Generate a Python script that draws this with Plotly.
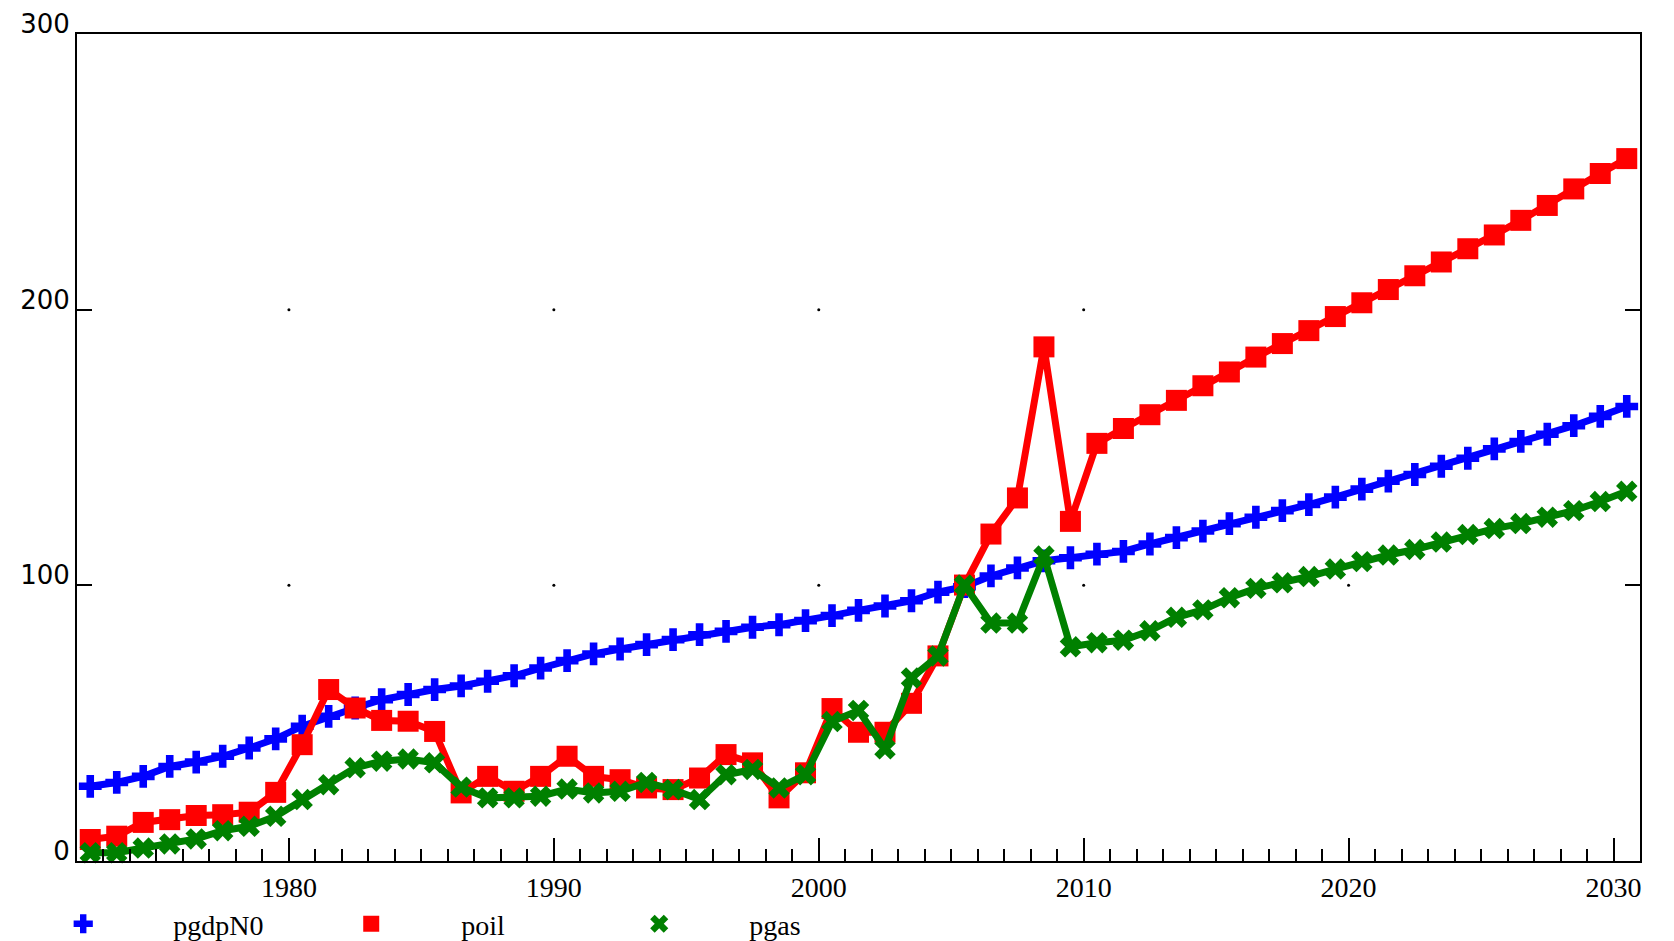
import plotly.graph_objects as go

years = list(range(1972, 2031))
pgdpN0 = [27.1, 28.5, 30.7, 34.3, 35.9, 38.0, 41.0, 44.3, 48.9, 52.5, 55.5, 58.5, 60.4, 62.2, 63.5,
          65.2, 67.2, 70.0, 72.7, 75.1, 76.9, 78.5, 80.3, 82.1, 83.3, 84.8, 85.7, 87.2, 89.0,
          90.9, 92.5, 94.4, 97.5, 99.5, 103.4, 106.3, 108.9, 110.0, 111.3,
          112.3, 115.0, 117.3, 119.7, 122.4, 124.7, 127.1, 129.3, 132.0, 134.9, 137.8, 140.2, 143.2,
          146.1, 149.5, 152.2, 154.8, 157.9, 161.3, 164.9]
poil = [7.8, 9.0, 14.0, 15.0, 16.5, 16.8, 17.7, 24.9, 42.2, 62.2, 55.5, 51.0, 50.7, 47.0, 24.7,
        30.7, 25.3, 30.7, 38.0, 30.7, 29.5, 26.5, 25.9, 30.1, 38.6, 35.6, 22.9, 32.0, 55.3,
        46.7, 46.7, 57.2, 74.4, 100.1, 118.6, 131.7, 186.5, 123.2, 151.5,
        156.9, 161.9, 167.1, 172.4, 177.4, 182.8, 187.7, 192.4, 197.5, 202.5, 207.3, 212.3, 217.3,
        222.1, 227.1, 232.4, 237.8, 243.8, 249.4, 254.8]
pgas = [3.0, 3.0, 4.7, 6.2, 8.0, 11.0, 12.6, 16.2, 22.3, 27.7, 33.8, 36.2, 37.0, 35.6, 26.8,
        22.9, 22.9, 23.5, 26.1, 24.7, 25.3, 28.5, 25.9, 22.3, 31.3, 33.2, 26.5, 31.3, 50.6,
        54.6, 40.7, 66.4, 74.4, 100.1, 86.3, 86.3, 110.6, 77.7, 79.2,
        80.1, 83.5, 88.4, 91.1, 95.5, 98.9, 100.9, 103.2, 105.9, 108.6, 111.0, 113.0, 115.7,
        118.4, 120.6, 122.4, 124.7, 127.1, 130.4, 134.1]

x_major = [1980, 1990, 2000, 2010, 2020, 2030]
y_major = [0, 100, 200, 300]
grid_x = [1980, 1990, 2000, 2010, 2020]
grid_y = [100, 200]

series = [
    ("pgdpN0", pgdpN0, "#0000ff", "cross", 19),
    ("poil", poil, "#ff0000", "square", 21),
    ("pgas", pgas, "#008000", "x", 19),
]

xs = [y + 0.5 for y in years]  # annual values plotted at mid-year

fig = go.Figure()

# grid dots at major tick intersections
gx, gy = [], []
for a in grid_x:
    for b in grid_y:
        gx.append(a)
        gy.append(b)
fig.add_trace(go.Scatter(x=gx, y=gy, mode="markers", showlegend=False, hoverinfo="skip",
                         marker=dict(size=3, color="black")))

for name, vals, col, sym, sz in series:
    fig.add_trace(go.Scatter(
        x=xs, y=vals, mode="lines+markers", name=name, showlegend=False,
        line=dict(color=col, width=7), cliponaxis=False,
        marker=dict(symbol=sym, size=sz, color=col, line=dict(width=0)),
    ))
    fig.add_trace(go.Scatter(
        x=[None], y=[None], mode="markers", name=name, showlegend=True,
        marker=dict(symbol=sym, size=sz - 2, color=col, line=dict(width=0)),
    ))

fig.update_layout(
    width=1666, height=933,
    margin=dict(l=69, r=34, t=26, b=80, autoexpand=False),
    paper_bgcolor="white", plot_bgcolor="white",
    showlegend=True,
    legend=dict(orientation="h", x=-0.0536, xanchor="left", y=-0.046, yanchor="top",
                itemwidth=170, entrywidth=103, entrywidthmode="pixels",
                font=dict(family="Liberation Serif", size=28, color="black"),
                bgcolor="rgba(0,0,0,0)", itemclick=False),
    xaxis=dict(range=[1972, 2031], tickmode="array", tickvals=x_major,
               ticks="inside", ticklen=23, tickwidth=1.5, tickcolor="black",
               showline=True, linecolor="black", linewidth=2, mirror=True,
               showgrid=False, zeroline=False,
               minor=dict(dtick=1, tick0=1972, ticks="inside", ticklen=12, tickwidth=1.5,
                          tickcolor="black", showgrid=False),
               tickfont=dict(family="Liberation Serif", size=28, color="black"),
               ticklabelstandoff=0, ticklabeloverflow="allow"),
    yaxis=dict(range=[0, 300], tickmode="array", tickvals=y_major,
               ticks="inside", ticklen=15, tickwidth=1.5, tickcolor="black",
               showline=True, linecolor="black", linewidth=2, mirror="ticks",
               showgrid=False, zeroline=False,
               tickfont=dict(family="DejaVu Sans", size=26, color="black"),
               ticklabelshift=-10, ticklabelstandoff=0, ticklabeloverflow="allow"),
)

fig.write_html("out.html")
